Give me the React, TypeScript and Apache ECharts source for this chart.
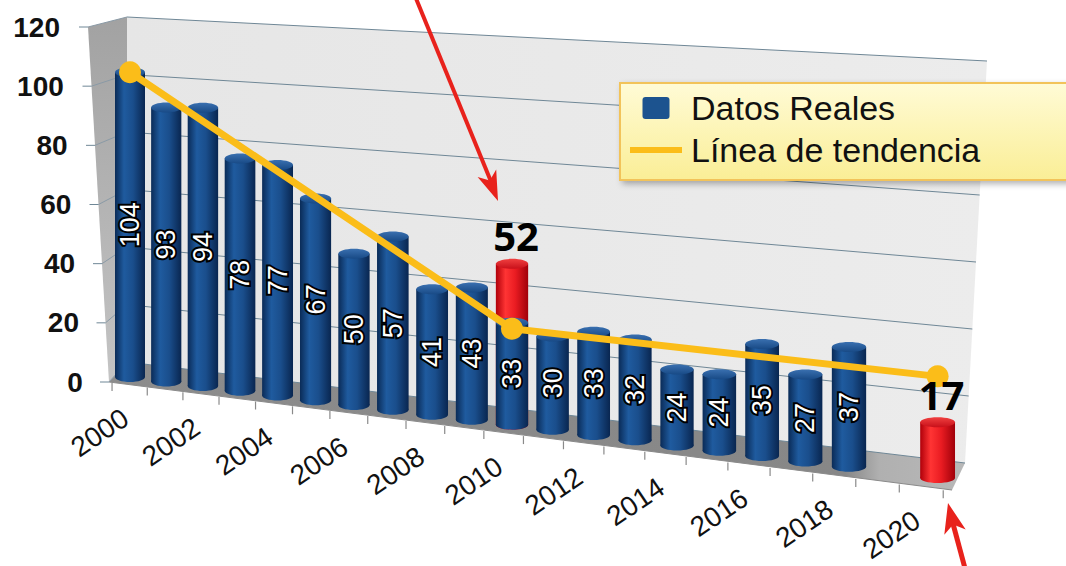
import React, { useEffect, useRef } from 'react';
import * as echarts from 'echarts';

// ---------------- data ----------------
const years = ['2000','2001','2002','2003','2004','2005','2006','2007','2008','2009','2010',
  '2011','2012','2013','2014','2015','2016','2017','2018','2019','2020'];
const realValues: (number | null)[] = [104, 93, 94, 78, 77, 67, 50, 57, 41, 43, 33, 30, 33, 32, 24, 24, 35, 27, 37, null, null];
const highlightYears = ['2010', '2020'];
const highlightValues = [52, 17];
const trendYears = ['2000', '2010', '2020'];
const trendValues = [104, 31, 31];
const yTicks = [0, 20, 40, 60, 80, 100, 120];

const FONT = "'Liberation Sans', Arial, Helvetica, sans-serif";

// ---------------- perspective helpers (pixel geometry) ----------------
const barX = (i: number) => 130 + 36.02 * i + 0.218 * i * i;
const barBase = (X: number) => 377 + 0.125 * (X - 130);
const barScale = (X: number) => 2.93 + 0.00043 * (X - 130);
const frontX = (b: number) => barX(b) - 0.8 * (b + 0.5);
const frontY = (X: number) => 383 + 0.129 * (X - 112);

// recover (category index, value) from the library's own coordinate system
function toIV(api: any, idx: number, val: number) {
  const p = api.coord([idx, val]);
  const o = api.coord([0, 0]);
  const e = api.coord([20, 120]);
  return [20 * (p[0] - o[0]) / (e[0] - o[0]), 120 * (o[1] - p[1]) / (o[1] - e[1]), p[1]];
}

function cylinder(api: any, kind: 'blue' | 'red', showInside: boolean, showAbove: boolean) {
  const idx = api.value(0);
  const val = api.value(1);
  const [i, v] = toIV(api, idx, val);
  const X = barX(i);
  const B = barBase(X);
  const S = barScale(X);
  const top = B - v * S;
  const w = 30 + 0.006 * (X - 130);
  const rx = w / 2;
  const ry = 5;
  const body = kind === 'blue'
    ? new echarts.graphic.LinearGradient(0, 0, 1, 0, [
        { offset: 0, color: '#0a2b57' }, { offset: 0.3, color: '#1f5b9f' },
        { offset: 0.6, color: '#1a4e8c' }, { offset: 1, color: '#092650' }])
    : new echarts.graphic.LinearGradient(0, 0, 1, 0, [
        { offset: 0, color: '#b0000a' }, { offset: 0.3, color: '#ff3434' },
        { offset: 0.6, color: '#ea1c22' }, { offset: 1, color: '#a0000a' }]);
  const topFill = kind === 'blue'
    ? new echarts.graphic.LinearGradient(0, 0, 0, 1, [
        { offset: 0, color: '#3a70b0' }, { offset: 1, color: '#184a86' }])
    : new echarts.graphic.LinearGradient(0, 0, 0, 1, [
        { offset: 0, color: '#f04040' }, { offset: 1, color: '#c8101a' }]);
  const children: any[] = [
    { type: 'ellipse', shape: { cx: X, cy: B, rx, ry }, style: { fill: body } },
    { type: 'rect', shape: { x: X - rx, y: top, width: w, height: B - top }, style: { fill: body } },
    { type: 'ellipse', shape: { cx: X, cy: top, rx, ry }, style: { fill: topFill } },
  ];
  if (showInside) {
    children.push({
      type: 'text', x: X, y: (top + B) / 2, rotation: Math.PI / 2, z2: 50,
      style: {
        text: String(val), x: 0, y: 0, align: 'center', verticalAlign: 'middle',
        fontSize: 27, fontFamily: FONT, fill: '#ffffff', stroke: '#000000', lineWidth: 4, strokeFirst: true,
      },
    });
  }
  if (showAbove) {
    children.push({
      type: 'text', x: X + 4, y: top - 28, z2: 100,
      style: {
        text: String(val), x: 0, y: 0, align: 'center', verticalAlign: 'middle',
        fontSize: 40, fontWeight: 'bold', fontFamily: "'Open Sans', " + FONT, fill: '#000000',
      },
    });
  }
  return { type: 'group', children };
}

export default function App() {
  const ref = useRef<HTMLDivElement>(null);
  useEffect(() => {
    if (!ref.current) return;
    const chart = echarts.init(ref.current, undefined, { renderer: 'svg' });
    const gridColor = '#6f8796';
    const option: any = {
      animation: false,
      backgroundColor: '#ffffff',
      grid: { left: 110, right: 100, top: 27, bottom: 184 },
      xAxis: { type: 'category', data: years, show: false },
      yAxis: { type: 'value', min: 0, max: 120, interval: 20, show: false },
      legend: {
        orient: 'vertical', left: 620, top: 83,
        itemWidth: 52, itemHeight: 22, itemGap: 8,
        padding: [8, 90, 13, 10],
        selectedMode: false,
        backgroundColor: new echarts.graphic.LinearGradient(0, 0, 0, 1, [
          { offset: 0, color: '#fffbd6' }, { offset: 1, color: '#faee96' }]),
        borderColor: '#f2c35a', borderWidth: 2,
        shadowBlur: 6, shadowColor: 'rgba(0,0,0,0.3)', shadowOffsetX: 3, shadowOffsetY: 3,
        textStyle: { fontSize: 34, fontFamily: FONT, color: '#111111', lineHeight: 34, padding: [0, 0, 0, 4] },
        data: [
          { name: 'Datos Reales', icon: 'path://M3,0 H24 Q27,0 27,3 V19 Q27,22 24,22 H3 Q0,22 0,19 V3 Q0,0 3,0 Z',
            itemStyle: { color: '#1c538f' } },
          { name: 'Línea de tendencia', icon: 'path://M0,0 H52 V6 H0 Z', itemStyle: { color: '#fbbd19' } },
        ],
      },
      graphic: {
        elements: [
          // back wall
          { type: 'polygon', z: 0, shape: { points: [[127, 17], [987, 61], [965, 463], [127, 362]] },
            style: { fill: new echarts.graphic.LinearGradient(0, 0, 1, 0, [
              { offset: 0, color: '#e6e6e6' }, { offset: 1, color: '#ececec' }]) } },
          // side wall
          { type: 'polygon', z: 0, shape: { points: [[88, 27], [127, 17], [127, 362], [109, 382]] },
            style: { fill: new echarts.graphic.LinearGradient(0, 0, 0, 1, [
              { offset: 0, color: '#a2a2a2' }, { offset: 1, color: '#c4c4c4' }]) } },
          // floor
          { type: 'polygon', z: 0, shape: { points: [[127, 362], [965, 463], [952, 490], [109, 382]] },
            style: { fill: new echarts.graphic.LinearGradient(0, 0, 1, 0, [
              { offset: 0, color: '#8c8c8c' }, { offset: 0.86, color: '#878787' },
              { offset: 0.9, color: '#b0b0b0' }, { offset: 1, color: '#b8b8b8' }]) } },
          { type: 'line', z: 0, shape: { x1: 109, y1: 382, x2: 952, y2: 490 },
            style: { stroke: '#8a8a8a', lineWidth: 1 } },
          // red arrows
          { type: 'line', z: 100, shape: { x1: 415, y1: -4, x2: 492, y2: 184 },
            style: { stroke: '#e8221c', lineWidth: 4 } },
          { type: 'polygon', z: 100, shape: { points: [[498, 201], [496.2, 169.5], [489.8, 180.6], [477.6, 176.9]] },
            style: { fill: '#e8221c' } },
          { type: 'line', z: 100, shape: { x1: 952, y1: 520, x2: 966, y2: 572 },
            style: { stroke: '#e8221c', lineWidth: 5 } },
          { type: 'polygon', z: 100, shape: { points: [[948, 503], [965.7, 529.6], [953.1, 524.4], [944.3, 534.8]] },
            style: { fill: '#e8221c' } },
        ],
      },
      series: [
        {
          // value axis: gridlines on the walls, ticks and labels
          type: 'custom', name: 'ejeY', z: 1, silent: true,
          data: yTicks.map((v) => [0, v]),
          renderItem: (params: any, api: any) => {
            const [, v, py] = toIV(api, 0, api.value(1));
            const yl = 362 - 2.875 * v;
            const xr = 965 + 22 * v / 120;
            const yr = 463 - 3.35 * v;
            const xe = 88 + (py - 27) / 355 * 21;
            return {
              type: 'group', children: [
                { type: 'line', shape: { x1: 127, y1: yl, x2: xr, y2: yr }, style: { stroke: gridColor, lineWidth: 1 } },
                { type: 'line', shape: { x1: xe, y1: py, x2: 127, y2: yl }, style: { stroke: '#8a9aa6', lineWidth: 1 } },
                { type: 'line', shape: { x1: xe - 9, y1: py, x2: xe, y2: py }, style: { stroke: gridColor, lineWidth: 1 } },
                { type: 'text', x: 60 + (120 - v) * 0.19, y: py,
                  style: { text: String(api.value(1)), x: 0, y: 0, align: 'right', verticalAlign: 'middle',
                    fontSize: 28, fontWeight: 'bold', fontFamily: FONT, fill: '#111111' } },
              ],
            };
          },
        },
        {
          // category axis along the front edge of the floor
          type: 'custom', name: 'ejeX', z: 1, silent: true,
          data: years.map((y, i) => [i, 0]),
          renderItem: (params: any, api: any) => {
            const [i] = toIV(api, api.value(0), 0);
            const children: any[] = [];
            const ticks = params.dataIndex === years.length - 1 ? [i - 0.5, i + 0.5] : [i - 0.5];
            ticks.forEach((b) => {
              const xb = frontX(b);
              const yb = frontY(xb);
              children.push({ type: 'line', shape: { x1: xb, y1: yb, x2: xb, y2: yb + 8 },
                style: { stroke: '#8a8a8a', lineWidth: 1.2 } });
            });
            if (params.dataIndex % 2 === 0) {
              const xc = frontX(i);
              children.push({
                type: 'text', x: xc - 4, y: frontY(xc) + 30, rotation: 34 * Math.PI / 180,
                style: { text: years[params.dataIndex], x: 0, y: 0, align: 'right', verticalAlign: 'middle',
                  fontSize: 28, fontFamily: FONT, fill: '#111111' },
              });
            }
            return { type: 'group', children };
          },
        },
        {
          type: 'custom', name: 'Meta', z: 2,
          data: highlightYears.map((y, k) => [years.indexOf(y), highlightValues[k]]),
          renderItem: (params: any, api: any) => cylinder(api, 'red', false, true),
        },
        {
          type: 'custom', name: 'Datos Reales', z: 2,
          itemStyle: { color: '#1c538f' },
          data: realValues.map((v, i) => [i, v]).filter((d) => d[1] !== null),
          renderItem: (params: any, api: any) => cylinder(api, 'blue', true, false),
        },
        {
          type: 'custom', name: 'Línea de tendencia', z: 2,
          itemStyle: { color: '#fbbd19' },
          data: trendYears.map((y, k) => [years.indexOf(y), trendValues[k]]),
          renderItem: (params: any, api: any) => {
            const pt = (k: number) => {
              const [i, v] = toIV(api, api.value(0, k), api.value(1, k));
              const X = barX(i);
              return [X, barBase(X) - v * barScale(X)];
            };
            const children: any[] = [];
            if (params.dataIndexInside === 0) {
              const pts: number[][] = [];
              for (let k = 0; k < params.dataInsideLength; k++) pts.push(pt(k));
              children.push({ type: 'polyline', shape: { points: pts },
                style: { stroke: '#fbbd19', lineWidth: 7, fill: 'none', lineJoin: 'round' } });
            }
            const p = pt(params.dataIndexInside);
            children.push({ type: 'circle', shape: { cx: p[0], cy: p[1], r: 11 }, style: { fill: '#fbbd19' } });
            return { type: 'group', children };
          },
        },
      ],
    };
    chart.setOption(option);
    return () => chart.dispose();
  }, []);
  return <div ref={ref} style={{ position: 'absolute', left: 0, top: 0, width: 1066, height: 566 }} />;
}
